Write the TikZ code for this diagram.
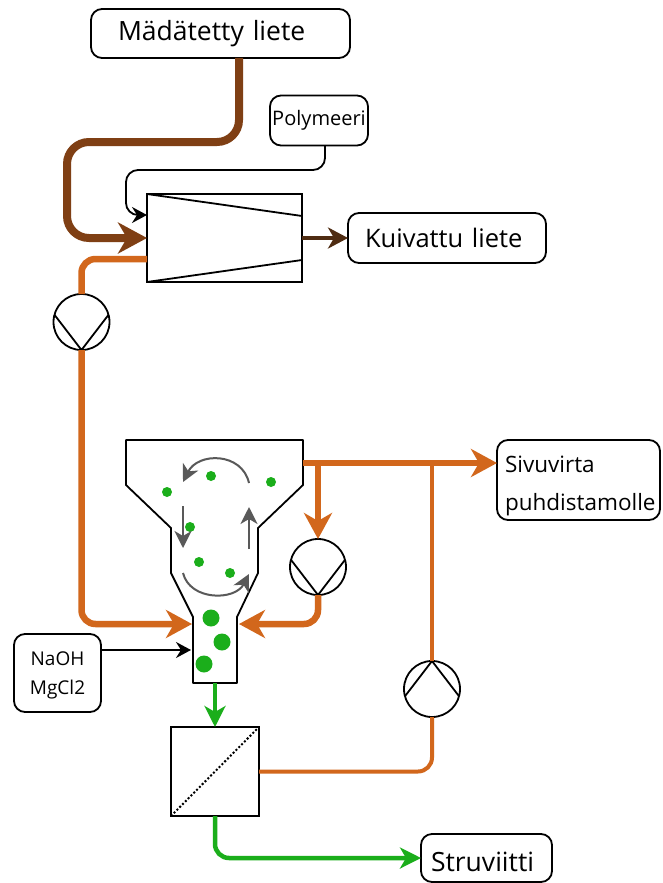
\documentclass[tikz,border=0pt]{standalone}
\usepackage{fontspec}
\setmainfont{Open Sans}
\usetikzlibrary{arrows.meta}
\definecolor{cbrown}{HTML}{7F3F14}
\definecolor{cdark}{HTML}{4F2C12}
\definecolor{corange}{HTML}{D2671C}
\definecolor{cgreen}{HTML}{1BAE1B}
\definecolor{cgrey}{HTML}{595959}
\newcommand{\lowertxt}[2]{\raisebox{-#1}[\height][\depth]{#2}}
\tikzset{
 box/.style={draw=black,line width=1.8pt,rounded corners=11pt,fill=white,inner ysep=0pt,outer sep=0pt,text=black,align=left},
 unit/.style={draw=black,line width=1.8pt,fill=white,inner sep=0pt,outer sep=0pt,minimum width=#1},
 pump/.style={circle,draw=black,line width=1.8pt,fill=white,inner sep=0pt,outer sep=0pt,minimum size=56pt},
 dotS/.style={circle,fill=cgreen,inner sep=0pt,minimum size=10pt},
 dotL/.style={circle,fill=cgreen,inner sep=0pt,minimum size=17pt},
 brownpipe/.style={draw=cbrown,line width=8pt,rounded corners=22pt,-{Stealth[length=29pt,width=31pt,inset=9pt]}},
 darkpipe/.style={draw=cdark,line width=4.5pt,-{Stealth[length=20pt,width=21pt,inset=6pt]}},
 orangepipe/.style={draw=corange,line width=6.5pt,rounded corners=14pt,-{Stealth[length=26pt,width=28pt,inset=8pt]}},
 orangeplain/.style={draw=corange,line width=6.5pt,rounded corners=14pt},
 orangethin/.style={draw=corange,line width=4pt,rounded corners=14pt},
 greenpipe/.style={draw=cgreen,line width=4.5pt,rounded corners=14pt,-{Stealth[length=21pt,width=21pt,inset=6pt]}},
 blackpipe/.style={draw=black,line width=1.8pt,rounded corners=12pt,-{Stealth[length=15pt,width=16pt,inset=5pt]}},
 greyarrow/.style={draw=cgrey,line width=2pt,-{Stealth[length=17pt,width=17pt,inset=5pt]}},
}
\begin{document}
\begin{tikzpicture}[x=1pt,y=-1pt]
\useasboundingbox (0,0) rectangle (662,883);
\fill[white] (0,0) rectangle (662,883);
% boxes
\node[box,inner xsep=0pt,minimum height=49pt,text width=259pt,font=\fontsize{26.5}{30}\selectfont] (mad) at (220.5,33.5) {\hspace*{27pt}Mädätetty liete};
\node[box,inner xsep=0pt,minimum height=50pt,text width=98pt,align=center,font=\fontsize{20}{22}\selectfont] (pol) at (319,120.5) {Polymeeri};
\node[box,inner xsep=0pt,minimum height=50pt,text width=198pt,font=\fontsize{25.5}{30}\selectfont] (kui) at (447,238) {\hspace*{17pt}Kuivattu liete};
\node[box,inner xsep=8pt,minimum height=80pt,text width=147pt,font=\fontsize{22.5}{38}\selectfont] (siv) at (578.5,480) {\lowertxt{6pt}{Sivuvirta}\\\lowertxt{6pt}{puhdistamolle}};
\node[box,inner xsep=0pt,minimum height=78pt,text width=87pt,align=center,font=\fontsize{19}{29}\selectfont] (nao) at (57.5,673) {\lowertxt{2pt}{NaOH}\\\lowertxt{2pt}{MgCl2}};
\node[box,inner xsep=0pt,minimum height=48pt,text width=131pt,font=\fontsize{26.5}{30}\selectfont] (str) at (486.5,858) {\hspace*{10pt}\lowertxt{4pt}{Struviitti}};
% dryer
\node[unit=155pt,minimum height=88pt] (dry) at (224.5,238) {};
\draw[line width=1.8pt] (dry.north west) -- ([yshift=-22pt]dry.north east);
\draw[line width=1.8pt] (dry.south west) -- ([yshift=22pt]dry.south east);
% pumps
\node[pump] (p1) at (81.5,322) {};
\draw[line width=1.8pt] (p1.165) -- (p1.south) -- (p1.15);
\node[pump] (p2) at (318,567) {};
\draw[line width=1.8pt] (p2.165) -- (p2.south) -- (p2.15);
\node[pump] (p3) at (432,689) {};
\draw[line width=1.8pt] (p3.195) -- (p3.north) -- (p3.345);
% filter
\node[unit=88pt,minimum height=89pt] (fil) at (215,771.5) {};
\draw[line width=2pt,dash pattern=on 2pt off 2pt] (fil.south west) -- (fil.north east);
% settler
\draw[line width=1.8pt,line join=round,fill=white] (126,440) -- (303,440) -- (303,485) -- (258,528) -- (258,573) -- (237,617) -- (237,683) -- (193,683) -- (193,617) -- (171,573) -- (171,528) -- (126,485) -- cycle;
\coordinate (setR) at (303,463);
\coordinate (setL) at (192,624);
\coordinate (setN) at (191,650);
\coordinate (setI) at (239,624);
\coordinate (setB) at (215,683);
% dots
\node[dotS] (d1) at (167,492) {};
\node[dotS] (d2) at (211,476) {};
\node[dotS] (d3) at (271,482) {};
\node[dotS] (d4) at (190,527) {};
\node[dotS] (d5) at (199,562) {};
\node[dotS] (d6) at (230,573) {};
\node[dotL] (d7) at (211,618) {};
\node[dotL] (d8) at (222,642) {};
\node[dotL] (d9) at (204,664) {};
% circulation
\draw[greyarrow] (249,483) .. controls (242,452) and (198,452) .. (183,482);
\draw[greyarrow] (183,506) -- (183,548);
\draw[greyarrow] (249,549) -- (249,507);
\draw[greyarrow] (183,573) .. controls (190,601) and (235,601) .. (249,574);
% connectors
\draw[brownpipe] ([xshift=18.5pt]mad.south) -- (239,142) -- (67,142) -- (67,238) -- (dry.west);
\draw[darkpipe] (dry.east) -- (kui.west);
\draw[blackpipe] ([xshift=6pt]pol.south) -- (325,170) -- (126,170) -- (126,215) -- ([yshift=23pt]dry.west);
\draw[orangeplain] ([yshift=-21pt]dry.west) -- (81.5,259) -- (p1.north);
\draw[orangepipe] (p1.south) -- (81.5,624) -- (setL);
\draw[orangepipe] (setR) -- (siv.west |- setR);
\draw[orangepipe,rounded corners=0pt] (318,463) -- (p2.north);
\draw[orangepipe] (p2.south) -- (318,624) -- (setI);
\draw[blackpipe] (nao.east |- setN) -- (setN);
\draw[greenpipe] (setB) -- (fil.north);
\draw[greenpipe] (fil.south) -- (215,858) -- (str.west);
\draw[orangethin] (fil.east) -- (432,771.5) -- (p3.south);
\draw[orangethin] (p3.north) -- (432,463);
\end{tikzpicture}
\end{document}
